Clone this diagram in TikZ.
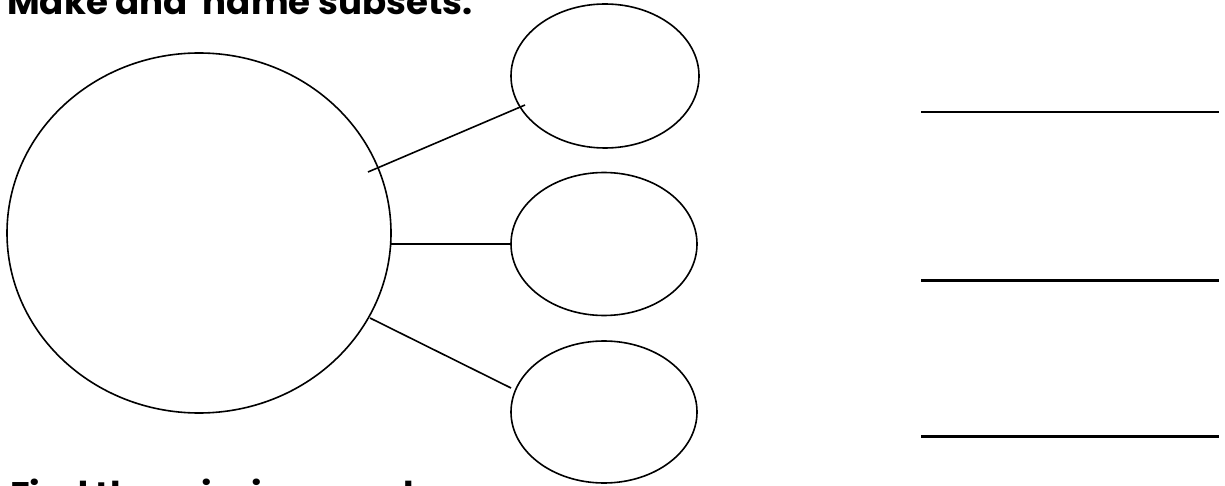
\documentclass[tikz,border=0pt]{standalone}
\usepackage{fontspec}
\setmainfont{Poppins}
\usetikzlibrary{shapes.geometric}
\begin{document}
\begin{tikzpicture}[x=1pt,y=-1pt,
  setshape/.style={draw=black,line width=1.6pt,ellipse,inner sep=0pt},
  link/.style={draw=black,line width=1.6pt},
  blank/.style={draw=black,line width=2.2pt},
  heading/.style={inner sep=0pt,font=\fontsize{35.6}{40}\selectfont\bfseries}]
\clip (0,0) rectangle (1225,486);
\node[heading,anchor=base west] (t1) at (7,15) {Make and\ \ name subsets.};
\node[heading,anchor=north west] (t2) at (10,479) {Find the missing numbers.};
\node[setshape,minimum width=384pt,minimum height=360pt] (set) at (199,233) {};
\node[setshape,minimum width=188pt,minimum height=144pt] (e1) at (605,76) {};
\node[setshape,minimum width=186pt,minimum height=143pt] (e2) at (604,244) {};
\node[setshape,minimum width=186pt,minimum height=142pt] (e3) at (604,412) {};
\coordinate (l1a) at (368,172);
\coordinate (l1b) at (525,105);
\coordinate (l2a) at (391,244);
\coordinate (l3a) at (370,318);
\coordinate (l3b) at (511,388);
\draw[link] (l1a) -- (l1b);
\draw[link] (l2a) -- (e2.west);
\draw[link] (l3a) -- (l3b);
\coordinate (u1a) at (921,112); \coordinate (u1b) at (1219,112);
\coordinate (u2a) at (921,280.5); \coordinate (u2b) at (1219,280.5);
\coordinate (u3a) at (921,436.5); \coordinate (u3b) at (1219,436.5);
\draw[blank] (u1a) -- (u1b);
\draw[blank] (u2a) -- (u2b);
\draw[blank] (u3a) -- (u3b);
\end{tikzpicture}
\end{document}
